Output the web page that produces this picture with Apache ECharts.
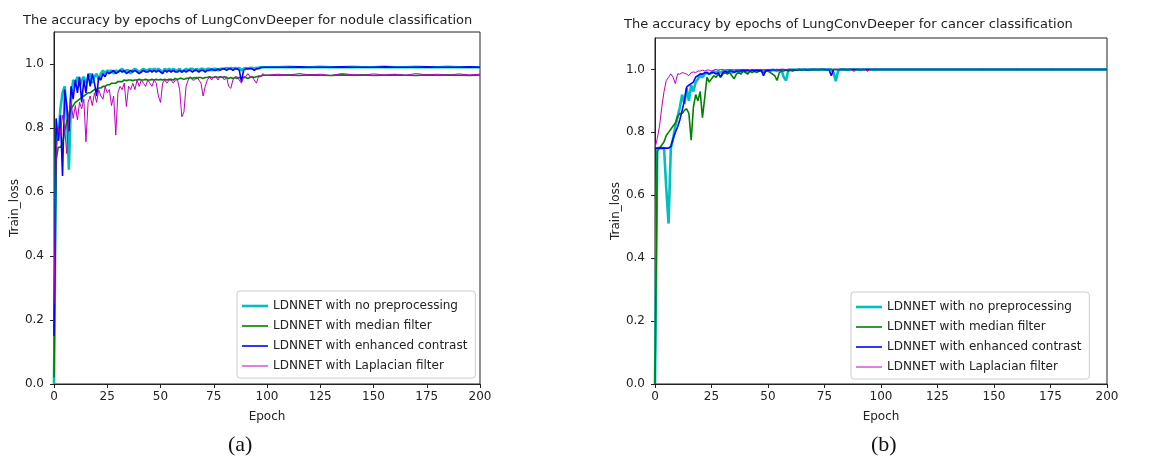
<!DOCTYPE html>
<html><head><meta charset="utf-8">
<script src="https://cdn.jsdelivr.net/npm/echarts@6/dist/echarts.min.js"></script>
<style>html,body{margin:0;padding:0;background:#fff}#c{width:1153px;height:463px}</style>
</head><body><div id="c"></div>
<script>
const epochs = [0,1,2,3,4,5,6,7,8,9,10,11,12,13,14,15,16,17,18,19,20,21,22,23,24,25,26,27,28,29,30,31,32,33,34,35,36,37,38,39,40,41,42,43,44,45,46,47,48,49,50,51,52,53,54,55,56,57,58,59,60,61,62,63,64,65,66,67,68,69,70,71,72,73,74,75,76,77,78,79,80,81,82,83,84,85,86,87,88,89,90,91,92,93,94,95,96,97,98,99,100,
105,110,115,120,125,130,135,140,145,150,155,160,165,170,175,180,185,190,195,200];

const seriesNames = ['LDNNET with no preprocessing','LDNNET with median filter','LDNNET with enhanced contrast','LDNNET with Laplacian filter'];
const xTicks = [0,25,50,75,100,125,150,175,200];
const yTicks = [0,0.2,0.4,0.6,0.8,1.0];
const titles = ['The accuracy by epochs of LungConvDeeper for nodule classification','The accuracy by epochs of LungConvDeeper for cancer classification'];
const panelLabels = ['(a)','(b)'];

// (a) nodule classification
const nodCyan = [0.00,0.80,0.76,0.86,0.91,0.93,0.84,0.67,0.89,0.95,
0.94,0.96,0.93,0.95,0.96,0.94,0.96,0.97,0.94,0.96,
0.97,0.95,0.97,0.98,0.97,0.98,0.975,0.98,0.97,0.98,
0.975,0.98,0.985,0.975,0.98,0.98,0.97,0.98,0.985,0.98,
0.975,0.98,0.985,0.98,0.98,0.985,0.98,0.985,0.98,0.985,
0.98,0.975,0.985,0.98,0.985,0.98,0.985,0.98,0.98,0.985,
0.975,0.98,0.985,0.98,0.985,0.985,0.98,0.985,0.98,0.985,
0.985,0.98,0.985,0.985,0.98,0.985,0.985,0.98,0.985,0.985,
0.985,0.988,0.985,0.988,0.985,0.988,0.985,0.988,0.98,0.985,
0.988,0.985,0.988,0.988,0.985,0.988,0.988,0.99,0.99,0.99,
0.99,
0.99,0.991,0.99,0.99,0.991,0.99,0.99,0.991,0.99,0.99,0.991,0.99,0.99,0.991,0.99,0.99,0.991,0.99,0.99,0.99];

const nodGreen = [0.02,0.70,0.74,0.74,0.75,0.79,0.82,0.84,0.86,0.87,
0.88,0.885,0.89,0.895,0.90,0.905,0.91,0.91,0.915,0.92,
0.92,0.925,0.925,0.93,0.93,0.935,0.935,0.94,0.94,0.94,
0.945,0.945,0.945,0.95,0.948,0.95,0.95,0.948,0.95,0.95,
0.952,0.95,0.95,0.952,0.95,0.95,0.952,0.95,0.952,0.95,
0.952,0.95,0.952,0.95,0.952,0.952,0.95,0.955,0.952,0.955,
0.955,0.952,0.955,0.955,0.958,0.955,0.958,0.955,0.958,0.958,
0.955,0.958,0.958,0.96,0.958,0.958,0.96,0.958,0.96,0.958,
0.96,0.958,0.955,0.958,0.955,0.958,0.955,0.958,0.955,0.958,
0.958,0.955,0.958,0.96,0.958,0.96,0.962,0.962,0.965,0.965,
0.965,
0.965,0.966,0.964,0.966,0.965,0.964,0.966,0.965,0.966,0.964,0.965,0.966,0.965,0.964,0.966,0.965,0.966,0.965,0.964,0.965];

const nodBlue = [0.15,0.83,0.76,0.84,0.65,0.92,0.87,0.79,0.93,0.89,
0.95,0.91,0.96,0.88,0.95,0.91,0.97,0.93,0.97,0.94,
0.90,0.96,0.95,0.97,0.96,0.975,0.97,0.975,0.98,0.97,
0.975,0.98,0.975,0.98,0.97,0.975,0.98,0.975,0.98,0.975,
0.97,0.975,0.98,0.975,0.975,0.98,0.975,0.98,0.975,0.98,
0.975,0.97,0.98,0.975,0.98,0.975,0.98,0.975,0.975,0.98,
0.975,0.98,0.975,0.98,0.98,0.975,0.98,0.98,0.975,0.98,
0.98,0.975,0.98,0.98,0.985,0.98,0.98,0.985,0.98,0.985,
0.985,0.98,0.985,0.985,0.98,0.985,0.985,0.98,0.945,0.98,
0.985,0.985,0.985,0.985,0.98,0.985,0.985,0.988,0.99,0.99,
0.99,
0.99,0.99,0.991,0.99,0.99,0.99,0.991,0.99,0.99,0.99,0.991,0.99,0.99,0.99,0.991,0.99,0.99,0.99,0.991,0.99];

const nodMag = [0.25,0.72,0.80,0.78,0.84,0.80,0.72,0.85,0.88,0.83,
0.87,0.825,0.88,0.86,0.89,0.757,0.88,0.90,0.87,0.91,
0.88,0.92,0.90,0.89,0.93,0.91,0.92,0.87,0.90,0.778,
0.91,0.93,0.92,0.94,0.867,0.93,0.92,0.94,0.92,0.95,
0.93,0.95,0.94,0.93,0.95,0.94,0.93,0.95,0.94,0.90,
0.88,0.94,0.95,0.94,0.95,0.95,0.94,0.95,0.95,0.92,
0.835,0.85,0.93,0.95,0.96,0.95,0.95,0.96,0.95,0.94,
0.90,0.93,0.95,0.96,0.95,0.96,0.96,0.95,0.96,0.96,
0.95,0.96,0.93,0.924,0.95,0.96,0.96,0.95,0.94,0.96,
0.96,0.97,0.96,0.96,0.95,0.94,0.96,0.96,0.97,0.965,
0.965,
0.968,0.965,0.97,0.966,0.968,0.964,0.97,0.967,0.965,0.969,0.966,0.968,0.965,0.97,0.966,0.968,0.965,0.969,0.966,0.968];

// (b) cancer classification
const canCyan = [0.00,0.75,0.75,0.75,0.75,0.62,0.51,0.75,0.78,0.82,
0.85,0.88,0.92,0.89,0.94,0.90,0.95,0.93,0.96,0.97,
0.98,0.975,0.985,0.99,0.985,0.99,0.995,0.99,0.995,0.99,
0.995,0.99,0.995,0.995,0.99,0.995,0.995,0.99,0.995,0.995,
0.995,0.99,0.995,0.998,0.995,0.995,0.998,0.995,0.998,0.995,
0.998,0.995,0.998,0.998,0.995,0.998,0.998,0.975,0.965,0.998,
0.998,0.998,1.0,0.998,1.0,0.998,1.0,1.0,0.998,1.0,
1.0,1.0,0.998,1.0,1.0,1.0,0.998,1.0,1.0,0.99,
0.963,0.995,1.0,1.0,1.0,0.998,1.0,1.0,1.0,1.0,
1.0,0.998,1.0,1.0,1.0,1.0,1.0,1.0,1.0,1.0,
1.0,
1.0,1.0,1.0,1.0,1.0,1.0,1.0,1.0,1.0,1.0,1.0,1.0,1.0,1.0,1.0,1.0,1.0,1.0,1.0,1.0];

const canGreen = [0.00,0.74,0.75,0.76,0.77,0.79,0.80,0.81,0.82,0.83,
0.85,0.86,0.86,0.87,0.875,0.86,0.775,0.88,0.92,0.90,
0.93,0.847,0.91,0.975,0.96,0.97,0.98,0.975,0.985,0.975,
0.985,0.99,0.985,0.99,0.98,0.97,0.985,0.99,0.985,0.995,
0.99,0.985,0.995,0.99,0.995,0.99,0.995,0.995,0.99,0.995,
0.995,0.99,0.985,0.98,0.965,0.99,0.995,0.995,0.998,0.995,
0.998,0.995,0.998,0.998,1.0,0.998,1.0,1.0,1.0,0.998,
1.0,1.0,1.0,1.0,1.0,1.0,1.0,1.0,1.0,1.0,
1.0,1.0,1.0,1.0,1.0,1.0,1.0,1.0,1.0,1.0,
1.0,1.0,1.0,1.0,1.0,1.0,1.0,1.0,1.0,1.0,
1.0,
1.0,1.0,1.0,1.0,1.0,1.0,1.0,1.0,1.0,1.0,1.0,1.0,1.0,1.0,1.0,1.0,1.0,1.0,1.0,1.0];

const canBlue = [0.75,0.75,0.75,0.75,0.75,0.75,0.75,0.755,0.78,0.80,
0.817,0.84,0.87,0.90,0.944,0.95,0.955,0.96,0.976,0.98,
0.986,0.985,0.99,0.99,0.985,0.99,0.99,0.985,0.99,0.976,
0.99,0.995,0.99,0.995,0.995,0.99,0.995,0.995,0.995,0.998,
0.995,0.998,0.995,0.998,0.995,0.998,0.995,0.998,0.98,0.995,
0.998,0.998,1.0,0.998,1.0,0.998,1.0,1.0,0.998,1.0,
1.0,1.0,0.998,1.0,1.0,1.0,1.0,0.998,1.0,1.0,
1.0,1.0,1.0,1.0,1.0,1.0,1.0,1.0,0.98,1.0,
1.0,1.0,1.0,1.0,1.0,1.0,1.0,1.0,1.0,1.0,
1.0,1.0,1.0,1.0,1.0,1.0,1.0,1.0,1.0,1.0,
1.0,
1.0,1.0,1.0,1.0,1.0,1.0,1.0,1.0,1.0,1.0,1.0,1.0,1.0,1.0,1.0,1.0,1.0,1.0,1.0,1.0];

const canMag = [0.75,0.78,0.82,0.88,0.93,0.965,0.975,0.986,0.975,0.955,
0.986,0.985,0.99,0.988,0.985,0.98,0.99,0.992,0.99,0.995,
0.995,0.998,0.995,0.998,0.998,0.995,0.998,1.0,0.998,1.0,
1.0,0.998,1.0,1.0,1.0,0.998,1.0,1.0,1.0,1.0,
1.0,1.0,0.998,1.0,1.0,1.0,1.0,1.0,0.998,1.0,
1.0,1.0,1.0,1.0,1.0,0.998,1.0,1.0,1.0,1.0,
1.0,1.0,1.0,1.0,1.0,1.0,1.0,1.0,1.0,1.0,
1.0,1.0,1.0,1.0,1.0,1.0,1.0,1.0,1.0,1.0,
1.0,1.0,1.0,1.0,1.0,1.0,1.0,1.0,0.993,1.0,
1.0,1.0,1.0,1.0,0.994,1.0,1.0,1.0,1.0,1.0,
1.0,
1.0,1.0,1.0,1.0,1.0,1.0,1.0,1.0,1.0,1.0,1.0,1.0,1.0,1.0,1.0,1.0,1.0,1.0,1.0,1.0];

const colors = ['#00bfbf','#008000','#0000ff','#bf00bf'];
const widths = [2.6,1.6,1.6,1];
const FONT = '"DejaVu Sans", sans-serif';
const INK = '#222';

const zip = vals => epochs.map((e,i)=>[e, vals[i]]);
const panels = [[nodCyan,nodGreen,nodBlue,nodMag],[canCyan,canGreen,canBlue,canMag]];
const grids = [
  {left:54, top:32, width:426, height:352},
  {left:655, top:38, width:452, height:346}
];

const chart = echarts.init(document.getElementById('c'), null, {renderer:'canvas'});
const series = [];
panels.forEach((p,gi)=>{
  p.forEach((vals,si)=>{
    series.push({
      type:'line', name:seriesNames[si], xAxisIndex:gi, yAxisIndex:gi,
      data:zip(vals), showSymbol:false, symbol:'none', animation:false,
      lineStyle:{color:colors[si], width:widths[si]}, itemStyle:{color:colors[si]},
      emphasis:{disabled:true}
    });
  });
});

const mkX = gi => ({
  type:'value', gridIndex:gi, min:0, max:200, interval:25,
  name:'Epoch', nameLocation:'middle', nameGap:27,
  nameTextStyle:{fontFamily:FONT, fontSize:12, color:INK},
  axisLine:{show:true, lineStyle:{color:INK, width:1}},
  axisTick:{show:true, inside:false, length:4, lineStyle:{color:INK}},
  axisLabel:{fontFamily:FONT, fontSize:12, color:INK, margin:7, customValues:xTicks},
  splitLine:{show:false}
});
const mkY = gi => ({
  type:'value', gridIndex:gi, min:0, max:1.1,
  name:'Train_loss', nameLocation:'middle', nameGap:32, nameRotate:90,
  nameTextStyle:{fontFamily:FONT, fontSize:12, color:INK},
  axisLine:{show:true, lineStyle:{color:INK, width:1}},
  axisTick:{show:true, inside:false, length:4, lineStyle:{color:INK}, customValues:yTicks},
  axisLabel:{fontFamily:FONT, fontSize:12, color:INK, margin:10, customValues:yTicks, formatter:v=>v.toFixed(1)},
  splitLine:{show:false}
});

const legendData = seriesNames.map((n,i)=>({
  name:n,
  icon:'path://M0,0h26v' + widths[i] + 'h-26z',
  itemStyle:{color:colors[i], borderWidth:0}
}));
const mkLegend = (left, top) => ({
  orient:'vertical', left:left, top:top, data:legendData,
  backgroundColor:'#fff', borderColor:'#ccc', borderWidth:1, borderRadius:3,
  padding:[9,8,6,5], itemGap:8, itemWidth:26, itemHeight:12, symbolKeepAspect:true,
  textStyle:{fontFamily:FONT, fontSize:12, color:INK},
  selectedMode:false
});

chart.setOption({
  animation:false,
  backgroundColor:'#fff',
  title:[
    {text:titles[0], left:18, top:9, textStyle:{fontFamily:FONT, fontSize:13, fontWeight:'normal', color:INK}},
    {text:titles[1], left:619, top:13, textStyle:{fontFamily:FONT, fontSize:13, fontWeight:'normal', color:INK}}
  ],
  grid:grids.map(g=>Object.assign({show:true, borderColor:INK, borderWidth:1, backgroundColor:'transparent', containLabel:false, outerBoundsMode:'none'}, g)),
  xAxis:[mkX(0), mkX(1)],
  yAxis:[mkY(0), mkY(1)],
  legend:[mkLegend(237, 291), mkLegend(851, 292)],
  series:series,
  graphic:[
    {type:'text', left:228, top:434, style:{text:panelLabels[0], font:'22px "Liberation Serif", serif', fill:'#111'}},
    {type:'text', left:871, top:434, style:{text:panelLabels[1], font:'22px "Liberation Serif", serif', fill:'#111'}}
  ]
});
</script></body></html>
